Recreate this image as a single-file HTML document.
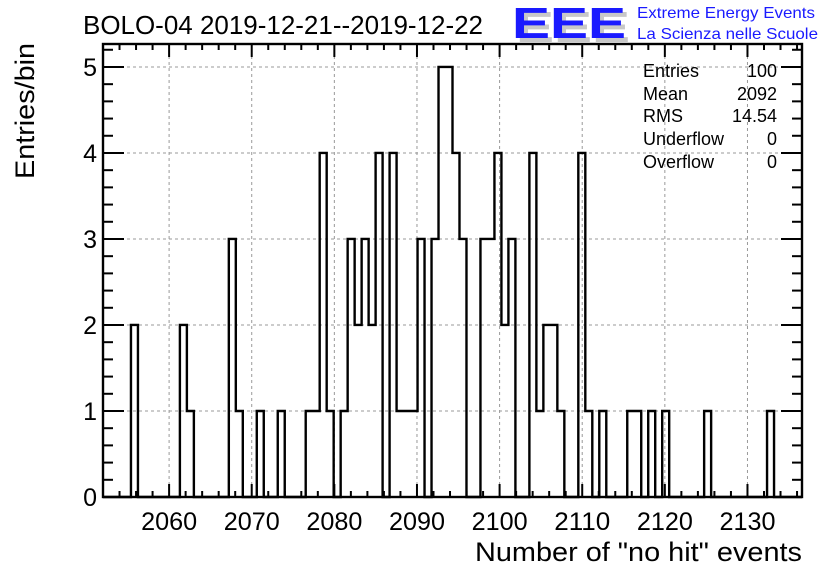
<!DOCTYPE html>
<html><head><meta charset="utf-8"><style>
body{margin:0;background:#fff;}
svg{display:block;font-family:"Liberation Sans",Arial,sans-serif;}
</style></head><body>
<svg id="c" width="836" height="572" viewBox="0 0 836 572">
<text x="83" y="34" font-size="26" textLength="400" lengthAdjust="spacingAndGlyphs">BOLO-04 2019-12-21--2019-12-22</text>
<g>
<text x="516" y="42" font-size="44" font-weight="bold" fill="#c8c8c8" textLength="114" lengthAdjust="spacingAndGlyphs">EEE</text>
<text x="512" y="38" font-size="44" font-weight="bold" fill="#1a1aff" textLength="114" lengthAdjust="spacingAndGlyphs">EEE</text>
<text x="637" y="18" font-size="16" fill="#1a1aff" textLength="178" lengthAdjust="spacingAndGlyphs">Extreme Energy Events</text>
<text x="637" y="39" font-size="16" fill="#1a1aff" textLength="181" lengthAdjust="spacingAndGlyphs">La Scienza nelle Scuole</text>
</g>
<g id="grid"></g>
<path id="hist" fill="none" stroke="#000" stroke-width="2.4"/>
<g id="axes"></g>
<rect x="103" y="44" width="699" height="453" fill="none" stroke="#000" stroke-width="2.4"/>
<g font-size="18">
<text x="643" y="77">Entries</text><text x="777" y="77" text-anchor="end">100</text>
<text x="643" y="100">Mean</text><text x="777" y="100" text-anchor="end">2092</text>
<text x="643" y="122">RMS</text><text x="777" y="122" text-anchor="end">14.54</text>
<text x="643" y="145">Underflow</text><text x="777" y="145" text-anchor="end">0</text>
<text x="643" y="168">Overflow</text><text x="777" y="168" text-anchor="end">0</text>
</g>
<text x="802" y="561" font-size="27" text-anchor="end" textLength="327" lengthAdjust="spacingAndGlyphs">Number of "no hit" events</text>
<text transform="translate(34,179) rotate(-90)" font-size="27" textLength="136" lengthAdjust="spacingAndGlyphs">Entries/bin</text>
</svg>
<script>
const xmin = 2052.0, xmax = 2136.6;
const nbins = 100;
const xTickLabels = [2060,2070,2080,2090,2100,2110,2120,2130];
const yTickLabels = [0,1,2,3,4,5];
const binIndex = [4,11,12,18,19,22,25,29,30,31,32,34,35,36,37,38,39,41,42,43,44,45,47,48,49,50,51,54,55,56,57,58,61,62,63,64,65,68,69,71,75,76,78,80,86,95];
const binCount = [2,2,1,3,1,1,1,1,1,4,1,1,3,2,3,2,4,4,1,1,1,3,3,5,5,4,3,3,3,4,2,3,4,1,2,2,1,4,1,1,1,1,1,1,1,1];
const L=103,R=802,T=44,B=497,ymax=5.267;
const sx=v=>L+(v-xmin)/(xmax-xmin)*(R-L);
const sy=v=>B-v/ymax*(B-T);
const NS='http://www.w3.org/2000/svg';
function mk(tag,attrs,parent){const e=document.createElementNS(NS,tag);for(const k in attrs)e.setAttribute(k,attrs[k]);parent.appendChild(e);return e;}
const grid=document.getElementById('grid'),axes=document.getElementById('axes');
xTickLabels.forEach(v=>{const l=mk('line',{x1:sx(v),x2:sx(v),y1:T,y2:B,stroke:'#999','stroke-dasharray':'3,3','stroke-width':1},grid);
});
yTickLabels.forEach(v=>{if(v===0)return;const l=mk('line',{x1:L,x2:R,y1:sy(v),y2:sy(v),stroke:'#999','stroke-dasharray':'3,3','stroke-width':1},grid);
});
const counts=new Array(nbins).fill(0);
binIndex.forEach((b,i)=>counts[b]=binCount[i]);
const bw=(xmax-xmin)/nbins;
let d='M'+sx(xmin)+','+sy(0);
for(let i=0;i<nbins;i++){const x0=sx(xmin+i*bw),x1=sx(xmin+(i+1)*bw);d+=' L'+x0+','+sy(counts[i])+' L'+x1+','+sy(counts[i]);}
d+=' L'+sx(xmax)+','+sy(0);
document.getElementById('hist').setAttribute('d',d);
for(let v=2052;v<=2136;v+=2){const maj=v%10===0;const len=maj?13:6;
mk('line',{x1:sx(v),x2:sx(v),y1:B,y2:B-len,stroke:'#000','stroke-width':2},axes);
mk('line',{x1:sx(v),x2:sx(v),y1:T,y2:T+len,stroke:'#000','stroke-width':2},axes);}
xTickLabels.forEach(v=>{const t=mk('text',{x:sx(v),y:530,'font-size':25,'text-anchor':'middle',textLength:56,lengthAdjust:'spacingAndGlyphs'},axes);t.textContent=v;
});
for(let k=0;k<=26;k++){const v=k*0.2;const maj=k%5===0;const len=maj?21:10;
mk('line',{x1:L,x2:L+len,y1:sy(v),y2:sy(v),stroke:'#000','stroke-width':2},axes);
mk('line',{x1:R,x2:R-len,y1:sy(v),y2:sy(v),stroke:'#000','stroke-width':2},axes);}
yTickLabels.forEach(v=>{const t=mk('text',{x:97,y:sy(v)+9,'font-size':25,'text-anchor':'end'},axes);t.textContent=v;
});
</script>
</body></html>
